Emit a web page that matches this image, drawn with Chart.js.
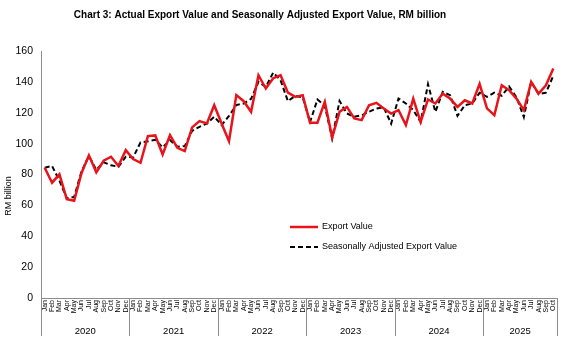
<!DOCTYPE html>
<html>
<head>
<meta charset="utf-8">
<script src="https://cdn.jsdelivr.net/npm/chart.js@4.4.1/dist/chart.umd.min.js"></script>
<style>
  body { margin: 0; background: #fff; }
  #wrap { width: 573px; height: 354px; }
</style>
</head>
<body>
<div id="wrap"><canvas id="chart" width="573" height="354"></canvas></div>
<script>
// month names and years on the x axis (Jan 2020 - Oct 2025)
var monthNames = ['Jan','Feb','Mar','Apr','May','Jun','Jul','Aug','Sep','Oct','Nov','Dec'];
var years = ['2020','2021','2022','2023','2024','2025'];
var monthsInYear = [12, 12, 12, 12, 12, 10];

// RM billion
var exportValue = [
  84.4, 74.7, 80.1, 64.0, 63.0, 81.0, 92.4, 81.4, 88.9, 91.5, 85.5, 95.8,
  90.0, 87.6, 104.9, 105.3, 93.0, 105.5, 97.3, 95.2, 110.5, 114.6, 113.0, 124.9,
  113.0, 101.6, 131.4, 127.5, 120.6, 144.3, 135.7, 142.4, 144.3, 133.0, 130.3, 131.4,
  113.5, 113.5, 127.0, 104.0, 120.6, 123.8, 116.3, 115.2, 124.9, 126.4, 122.8, 119.5,
  121.7, 112.0, 129.2, 114.0, 128.6, 126.0, 132.4, 129.2, 123.8, 128.1, 126.0, 138.7,
  122.8, 118.4, 137.8, 134.6, 129.2, 121.7, 140.0, 132.4, 137.8, 148.6
];
var seasonallyAdjusted = [
  84.4, 85.5, 76.0, 64.5, 65.5, 82.0, 92.0, 83.0, 87.9, 86.0, 85.0, 91.5,
  91.0, 100.8, 101.5, 102.5, 97.6, 102.3, 98.0, 98.4, 108.3, 110.9, 113.0, 117.4,
  112.0, 118.0, 125.0, 126.0, 129.0, 140.0, 136.7, 146.0, 141.0, 127.5, 131.0, 130.0,
  114.0, 128.6, 124.5, 103.4, 127.6, 119.5, 117.4, 118.4, 120.6, 122.8, 123.4, 113.0,
  129.2, 126.0, 121.7, 114.0, 138.5, 120.6, 133.5, 131.4, 118.0, 124.9, 126.0, 132.9,
  130.3, 133.0, 131.0, 137.0, 130.0, 117.2, 140.0, 132.0, 133.0, 144.0
];

var labels = [];
for (var y = 0; y < years.length; y++) {
  for (var m = 0; m < monthsInYear[y]; m++) {
    labels.push(monthNames[m]);
  }
}

var FONT = "'Liberation Sans', Arial, sans-serif";
var AXIS_COLOR = '#8c8c8c';
var TITLE = 'Chart 3: Actual Export Value and Seasonally Adjusted Export Value, RM billion';

// title, year labels, year dividers, y title and the legend box inside the plot
var extras = {
  id: 'extras',
  afterDraw: function(chart) {
    var ctx = chart.ctx;
    var xs = chart.scales.x;
    var area = chart.chartArea;
    ctx.save();

    ctx.fillStyle = '#000';
    ctx.font = 'bold 10px ' + FONT;
    ctx.textAlign = 'center';
    ctx.textBaseline = 'middle';
    ctx.fillText(TITLE, 260, 15);

    ctx.strokeStyle = AXIS_COLOR;
    ctx.lineWidth = 1;
    var start = 0;
    var bounds = [area.left];
    for (var i = 0; i < years.length; i++) {
      var end = start + monthsInYear[i] - 1;
      var right = (i == years.length - 1) ? area.right
        : (xs.getPixelForValue(end) + xs.getPixelForValue(end + 1)) / 2;
      bounds.push(right);
      var left = bounds[i];
      ctx.fillStyle = '#000';
      ctx.font = '9.5px ' + FONT;
      ctx.textAlign = 'center';
      ctx.textBaseline = 'middle';
      ctx.fillText(years[i], (left + right) / 2, 331);
      start = end + 1;
    }
    for (var b = 0; b < bounds.length; b++) {
      var bx = Math.round(bounds[b]) + 0.5;
      ctx.beginPath();
      ctx.moveTo(bx, area.bottom);
      ctx.lineTo(bx, 336);
      ctx.stroke();
    }

    // y axis title
    ctx.save();
    ctx.translate(9, 196);
    ctx.rotate(-Math.PI / 2);
    ctx.font = '9px ' + FONT;
    ctx.fillStyle = '#000';
    ctx.textAlign = 'center';
    ctx.textBaseline = 'middle';
    ctx.fillText('RM billion', 0, 0);
    ctx.restore();

    // legend
    var ds = chart.data.datasets;
    for (var k = 0; k < ds.length; k++) {
      var ly = 227 + k * 20;
      ctx.beginPath();
      ctx.strokeStyle = ds[k].borderColor;
      ctx.lineWidth = ds[k].borderWidth;
      ctx.setLineDash(ds[k].borderDash || []);
      ctx.moveTo(290, ly);
      ctx.lineTo(318, ly);
      ctx.stroke();
      ctx.setLineDash([]);
      ctx.fillStyle = '#000';
      ctx.font = '9px ' + FONT;
      ctx.textAlign = 'left';
      ctx.textBaseline = 'middle';
      ctx.fillText(ds[k].label, 322, ly);
    }
    ctx.restore();
  }
};

var ctx = document.getElementById('chart').getContext('2d');
var myChart = new Chart(ctx, {
  type: 'line',
  data: {
    labels: labels,
    datasets: [{
      label: 'Export Value',
      data: exportValue,
      borderColor: '#e8141b',
      borderWidth: 2.5,
      pointRadius: 0,
      tension: 0
    }, {
      label: 'Seasonally Adjusted Export Value',
      data: seasonallyAdjusted,
      borderColor: '#000000',
      borderWidth: 2,
      borderDash: [5, 3],
      pointRadius: 0,
      tension: 0
    }]
  },
  options: {
    responsive: false,
    animation: false,
    layout: { padding: { top: 51, right: 16, bottom: 0, left: 0 } },
    plugins: {
      legend: { display: false },
      tooltip: { enabled: false },
      title: { display: false }
    },
    scales: {
      x: {
        offset: true,
        grid: { display: false, drawTicks: false },
        border: { color: AXIS_COLOR },
        ticks: {
          autoSkip: false,
          maxRotation: 90,
          minRotation: 90,
          padding: 2,
          color: '#000',
          font: { family: FONT, size: 7 }
        },
        afterFit: function(scale) { scale.height = 56; }
      },
      y: {
        min: 0,
        max: 160,
        grid: { display: false, drawTicks: false },
        border: { color: AXIS_COLOR },
        ticks: {
          stepSize: 20,
          padding: 8,
          color: '#000',
          font: { family: FONT, size: 10.5 }
        },
        afterFit: function(scale) { scale.width = 41; }
      }
    }
  },
  plugins: [extras]
});
</script>
</body>
</html>
